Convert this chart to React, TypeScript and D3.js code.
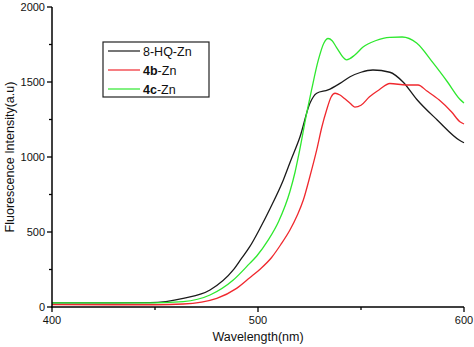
import React from "react";
import * as d3 from "d3";

const hqWave = [400, 430, 447.6, 463.7, 476.7, 488, 492, 496, 501, 506, 512.3, 516, 520.4, 525.2, 528.5, 534, 539.8, 544.7, 550, 555.8, 564, 570.4, 577, 587, 598, 600];
const hqVal = [28, 27, 29, 58, 113, 247, 324, 402, 525, 660, 847, 980, 1135, 1358, 1425, 1447, 1491, 1535, 1565, 1580, 1565, 1500, 1385, 1247, 1110, 1095];

const bWave = [400, 430, 450, 463.7, 480, 489.6, 496, 501, 506.6, 511, 515.5, 519, 522, 525, 528.5, 531, 533.3, 535.5, 537.4, 539.8, 542, 544.7, 547, 550, 554, 559, 564, 572, 577.7, 582, 588, 594, 598, 600];
const bVal = [16, 15, 15, 20, 58, 124, 195, 252, 330, 415, 513, 610, 713, 860, 1047, 1200, 1313, 1400, 1425, 1413, 1390, 1358, 1333, 1345, 1400, 1450, 1490, 1480, 1480, 1440, 1380, 1300, 1235, 1220];

const cWave = [400, 430, 450, 463.7, 476.7, 488, 496, 499.4, 505, 510, 515.5, 518, 520, 523.6, 526, 529.3, 532, 534, 536, 538, 543, 547, 551, 557, 564, 570, 577, 585, 592, 598, 600];
const cVal = [28, 27, 28, 36, 80, 180, 291, 340, 447, 570, 770, 900, 1030, 1290, 1447, 1647, 1760, 1790, 1775, 1733, 1648, 1680, 1733, 1775, 1798, 1800, 1760, 1627, 1500, 1385, 1360];

const xTicks = [400, 500, 600];
const xMinor = [450, 550];
const yTicks = [0, 500, 1000, 1500, 2000];
const yMinor = [250, 750, 1250, 1750];

const seriesNames = ["8-HQ-Zn", "4b-Zn", "4c-Zn"];
const seriesColors = ["#1a1a1a", "#f0282e", "#2ee82e"];

export default function App() {
  const W = 474, H = 347;
  const x = d3.scaleLinear().domain([400, 600]).range([52, 464]);
  const y = d3.scaleLinear().domain([0, 2000]).range([307, 7]);
  const line = d3
    .line<[number, number]>()
    .x((d) => x(d[0]))
    .y((d) => y(d[1]))
    .curve(d3.curveMonotoneX);
  const series: [number, number][][] = [
    hqWave.map((w, i) => [w, hqVal[i]]),
    bWave.map((w, i) => [w, bVal[i]]),
    cWave.map((w, i) => [w, cVal[i]]),
  ];
  const font = "Liberation Sans, Arial, sans-serif";
  const legendRows = [51, 70, 89];
  return (
    <svg width={W} height={H} style={{ position: "absolute", left: 0, top: 0, background: "#fff" }} fontFamily={font}>
      <rect x={0} y={0} width={W} height={H} fill="#fff" />
      {series.map((s, i) => (
        <path key={i} d={line(s) || ""} fill="none" stroke={seriesColors[i]} strokeWidth={1.3} />
      ))}
      {/* axes */}
      <line x1={52} y1={7} x2={52} y2={307.5} stroke="#000" strokeWidth={1.5} />
      <line x1={51.3} y1={307} x2={464} y2={307} stroke="#000" strokeWidth={1.5} />
      {yTicks.map((t) => (
        <g key={t}>
          <line x1={47} x2={52} y1={y(t)} y2={y(t)} stroke="#000" strokeWidth={1.3} />
          <text x={45} y={y(t) + 4} fontSize={11} textAnchor="end" fill="#111">{t}</text>
        </g>
      ))}
      {yMinor.map((t) => (
        <line key={t} x1={49} x2={52} y1={y(t)} y2={y(t)} stroke="#000" strokeWidth={1.3} />
      ))}
      {xTicks.map((t) => (
        <g key={t}>
          <line x1={x(t)} x2={x(t)} y1={307} y2={312} stroke="#000" strokeWidth={1.3} />
          <text x={x(t)} y={324} fontSize={11} textAnchor="middle" fill="#111">{t}</text>
        </g>
      ))}
      {xMinor.map((t) => (
        <line key={t} x1={x(t)} x2={x(t)} y1={307} y2={310} stroke="#000" strokeWidth={1.3} />
      ))}
      <text x={258} y={341} fontSize={12.5} textAnchor="middle" fill="#111">Wavelength(nm)</text>
      <text transform="translate(14,157) rotate(-90)" fontSize={12.5} textAnchor="middle" fill="#111">Fluorescence Intensity(a.u)</text>
      {/* legend */}
      <rect x={103} y={42} width={106} height={55} fill="#fff" stroke="#222" strokeWidth={1.2} />
      {legendRows.map((ry, i) => (
        <g key={i}>
          <line x1={108} x2={140} y1={ry} y2={ry} stroke={seriesColors[i]} strokeWidth={1.2} />
          {i === 0 ? (
            <text x={143} y={ry + 4.5} fontSize={12.5} fill="#111">{seriesNames[0]}</text>
          ) : (
            <text x={143} y={ry + 4.5} fontSize={12.5} fill="#111">
              <tspan fontWeight="bold">{seriesNames[i].split("-")[0]}</tspan>
              <tspan>{"-" + seriesNames[i].split("-")[1]}</tspan>
            </text>
          )}
        </g>
      ))}
    </svg>
  );
}
